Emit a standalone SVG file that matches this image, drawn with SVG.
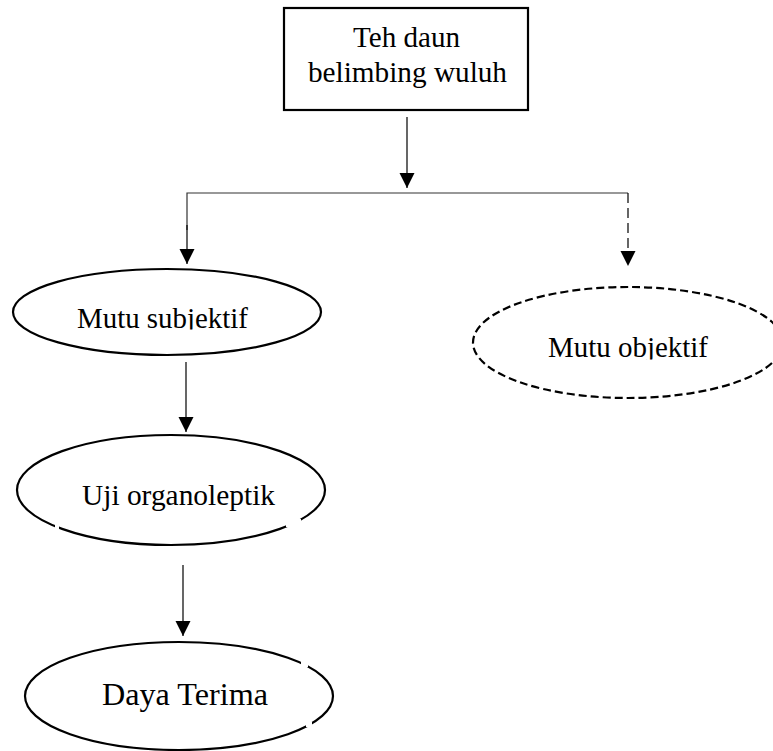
<svg xmlns="http://www.w3.org/2000/svg" width="773" height="751" viewBox="0 0 773 751">
  <defs>
    <marker id="arrow" markerUnits="userSpaceOnUse" markerWidth="16" markerHeight="16" refX="15" refY="7.5" orient="auto">
      <path d="M0,0 L15,7.5 L0,15 Z" fill="#000"/>
    </marker>
    <clipPath id="clipSub"><rect x="0" y="280" width="340" height="49.5"/></clipPath>
    <clipPath id="clipObj"><rect x="440" y="300" width="333" height="59.5"/></clipPath>
  </defs>
  <style>
    .lbl { font-family: "Liberation Serif", "Times New Roman", serif; fill: #000; }
    .solid { fill: #fff; stroke: #000; stroke-width: 2.2; }
    .dashed { fill: #fff; stroke: #000; stroke-width: 2.2; stroke-dasharray: 8 4; }
    .conn { fill: none; stroke: #000; stroke-width: 1.2; }
    .mask { fill: #fff; stroke: none; }
  </style>
  <rect width="773" height="751" fill="#fff"/>

  <g id="connectors">
    <line class="conn" x1="407" y1="117" x2="407" y2="188" marker-end="url(#arrow)"/>
    <polyline class="conn" points="187,230 187,193 628,193" style="stroke:#333"/>
    <line class="conn" x1="187" y1="225" x2="187" y2="264" marker-end="url(#arrow)"/>
    <line class="conn" x1="628" y1="193" x2="628" y2="266" stroke-dasharray="10 5" marker-end="url(#arrow)"/>
    <line class="conn" x1="186" y1="362" x2="186" y2="432" marker-end="url(#arrow)"/>
    <line class="conn" x1="183" y1="565" x2="183" y2="636" marker-end="url(#arrow)"/>
  </g>

  <g id="node-teh">
    <rect class="solid" x="284" y="8" width="244" height="102"/>
    <text class="lbl" x="353" y="47" font-size="29" textLength="107" lengthAdjust="spacingAndGlyphs">Teh daun</text>
    <text class="lbl" x="308" y="82" font-size="29" textLength="199" lengthAdjust="spacingAndGlyphs">belimbing wuluh</text>
  </g>

  <g id="node-subjektif">
    <ellipse class="solid" cx="167" cy="312" rx="154" ry="43"/>
    <text class="lbl" x="77" y="328" font-size="29" textLength="171" lengthAdjust="spacingAndGlyphs" clip-path="url(#clipSub)">Mutu subjektif</text>
  </g>

  <g id="node-objektif">
    <ellipse class="dashed" cx="628" cy="342.5" rx="155" ry="55.5"/>
    <text class="lbl" x="548" y="357" font-size="29" textLength="160" lengthAdjust="spacingAndGlyphs" clip-path="url(#clipObj)">Mutu objektif</text>
  </g>

  <g id="node-organoleptik">
    <ellipse class="solid" cx="171" cy="490" rx="154" ry="55"/>
    <text class="lbl" x="82" y="505" font-size="29" textLength="193" lengthAdjust="spacingAndGlyphs">Uji organoleptik</text>
    <rect class="mask" x="55" y="521" width="4" height="8"/>
    <rect class="mask" x="286" y="519" width="15" height="8"/>
  </g>

  <g id="node-daya">
    <ellipse class="solid" cx="179" cy="696" rx="154" ry="54"/>
    <text class="lbl" x="102" y="705" font-size="32" textLength="166" lengthAdjust="spacingAndGlyphs">Daya Terima</text>
    <rect class="mask" x="301" y="659" width="7" height="8"/>
    <rect class="mask" x="306" y="722" width="6" height="5"/>
  </g>
</svg>
